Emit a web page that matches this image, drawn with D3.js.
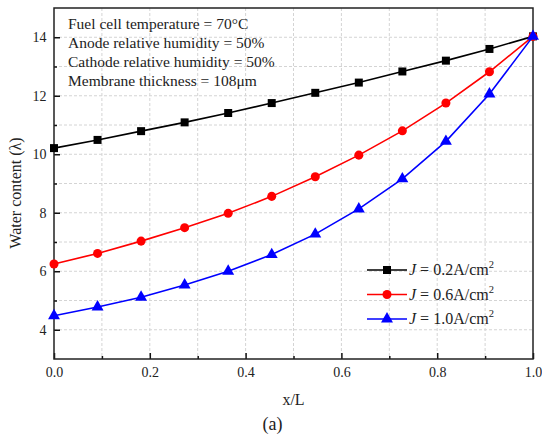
<!DOCTYPE html>
<html>
<head>
<meta charset="utf-8">
<script src="https://cdn.jsdelivr.net/npm/d3@7"></script>
<style>
  html, body { margin: 0; padding: 0; background: #fff; }
  svg { display: block; font-family: "Liberation Serif", "Times New Roman", serif; }
  svg text { font-family: "Liberation Serif", "Times New Roman", serif; }
</style>
</head>
<body>
<svg id="chart" width="542" height="439"></svg>
<script>
// Normalised position through the membrane (12 nodes)
const xPos = [0, 1/11, 2/11, 3/11, 4/11, 5/11, 6/11, 7/11, 8/11, 9/11, 10/11, 1];

// Water content λ for each current density
const lambdaJ02 = [10.21, 10.49, 10.79, 11.09, 11.41, 11.75, 12.10, 12.45, 12.83, 13.20, 13.60, 14.03];
const lambdaJ06 = [6.25, 6.61, 7.03, 7.49, 7.98, 8.56, 9.23, 9.97, 10.80, 11.75, 12.82, 14.03];
const lambdaJ10 = [4.48, 4.78, 5.11, 5.53, 6.00, 6.57, 7.27, 8.13, 9.16, 10.44, 12.06, 14.03];

const seriesNames = ["0.2", "0.6", "1.0"];
const xTickLabels = ["0.0", "0.2", "0.4", "0.6", "0.8", "1.0"];
const yTickLabels = ["4", "6", "8", "10", "12", "14"];
const conditions = [
  "Fuel cell temperature = 70\u00B0C",
  "Anode relative humidity = 50%",
  "Cathode relative humidity = 50%",
  "Membrane thickness = 108\u03BCm"
];

const series = [
  { name: seriesNames[0], values: lambdaJ02, color: "#000000", symbol: d3.symbolSquare, size: 64 },
  { name: seriesNames[1], values: lambdaJ06, color: "#ff0000", symbol: d3.symbolCircle, size: 64 },
  { name: seriesNames[2], values: lambdaJ10, color: "#0000ff", symbol: d3.symbolTriangle, size: 62 }
];

const FONT = "Liberation Serif, Times New Roman, serif";
const svg = d3.select("#chart");
const plot = { left: 54, right: 533, top: 8, bottom: 359 };

const x = d3.scaleLinear().domain([0, 1]).range([plot.left, plot.right]);
const y = d3.scaleLinear().domain([3, 15]).range([plot.bottom, plot.top]);

// Dashed grid at every minor step
const grid = svg.append("g").attr("stroke", "#d4d4d4").attr("stroke-width", 1).attr("stroke-dasharray", "3,2");
d3.range(1, 10).forEach(i => {
  const v = i / 10;
  grid.append("line").attr("x1", x(v)).attr("x2", x(v)).attr("y1", plot.top).attr("y2", plot.bottom);
});
d3.range(4, 15).forEach(v => {
  grid.append("line").attr("x1", plot.left).attr("x2", plot.right).attr("y1", y(v)).attr("y2", y(v));
});

// Axes with inward ticks
const xMajor = xTickLabels.map(Number);
const xAxis = d3.axisBottom(x).tickValues(xMajor).tickFormat((d, i) => xTickLabels[i]).tickSizeInner(-6).tickSizeOuter(0).tickPadding(8.5);
const xMinor = d3.axisBottom(x).tickValues(d3.range(1, 10, 2).map(i => i / 10)).tickFormat("").tickSizeInner(-3).tickSizeOuter(0);
const yMajor = yTickLabels.map(Number);
const yAxis = d3.axisLeft(y).tickValues(yMajor).tickFormat((d, i) => yTickLabels[i]).tickSizeInner(-6).tickSizeOuter(0).tickPadding(7.5);
const yMinor = d3.axisLeft(y).tickValues(d3.range(5, 15, 2)).tickFormat("").tickSizeInner(-3).tickSizeOuter(0);

function styleAxis(g) {
  g.attr("font-family", FONT);
  g.select(".domain").remove();
  g.selectAll(".tick line").attr("stroke", "#111").attr("stroke-width", 1.5);
  g.selectAll(".tick text").attr("font-family", FONT).attr("font-size", 14).attr("fill", "#222");
}
svg.append("g").attr("transform", `translate(0,${plot.bottom})`).call(xAxis).call(styleAxis);
svg.append("g").attr("transform", `translate(0,${plot.bottom})`).call(xMinor).call(styleAxis);
svg.append("g").attr("transform", `translate(${plot.left},0)`).call(yAxis).call(styleAxis);
svg.append("g").attr("transform", `translate(${plot.left},0)`).call(yMinor).call(styleAxis);

// Frame
svg.append("rect")
  .attr("x", plot.left).attr("y", plot.top)
  .attr("width", plot.right - plot.left).attr("height", plot.bottom - plot.top)
  .attr("fill", "none").attr("stroke", "#222").attr("stroke-width", 1.5);

// Curves and markers
const line = d3.line().x((d, i) => x(xPos[i])).y(d => y(d));
series.forEach(s => {
  svg.append("path").datum(s.values)
    .attr("d", line).attr("fill", "none").attr("stroke", s.color).attr("stroke-width", 1.6);
  svg.append("g").selectAll("path").data(s.values).join("path")
    .attr("transform", (d, i) => `translate(${x(xPos[i])},${y(d)})`)
    .attr("d", d3.symbol().type(s.symbol).size(s.size))
    .attr("fill", s.color);
});

// Operating conditions
const note = svg.append("text").attr("font-family", FONT).attr("font-size", 15.5).attr("fill", "#222");
conditions.forEach((t, i) => {
  note.append("tspan").attr("x", 68).attr("y", 29 + i * 19).text(t);
});

// Legend
const legend = svg.append("g").attr("font-family", FONT);
series.forEach((s, i) => {
  const ly = 270 + i * 24.5;
  legend.append("line").attr("x1", 367).attr("x2", 407).attr("y1", ly).attr("y2", ly)
    .attr("stroke", s.color).attr("stroke-width", 1.6);
  legend.append("path").attr("transform", `translate(387,${ly})`)
    .attr("d", d3.symbol().type(s.symbol).size(s.size)).attr("fill", s.color);
  const t = legend.append("text").attr("x", 409).attr("y", ly + 5).attr("font-size", 16).attr("fill", "#222");
  t.append("tspan").attr("font-style", "italic").text("J");
  t.append("tspan").text(` = ${s.name}A/cm`);
  t.append("tspan").attr("font-size", 10.5).attr("dy", -7).text("2");
});

// Axis titles
svg.append("text").attr("x", 293.5).attr("y", 405).attr("text-anchor", "middle")
  .attr("font-family", FONT).attr("font-size", 16).attr("fill", "#222").text("x/L");
svg.append("text").attr("transform", `translate(21,193) rotate(-90)`)
  .attr("text-anchor", "middle").attr("font-family", FONT).attr("font-size", 16).attr("fill", "#222").text("Water content (\u03BB)");
svg.append("text").attr("x", 272.5).attr("y", 430).attr("text-anchor", "middle")
  .attr("font-family", FONT).attr("font-size", 18).attr("fill", "#222").text("(a)");
</script>
</body>
</html>
